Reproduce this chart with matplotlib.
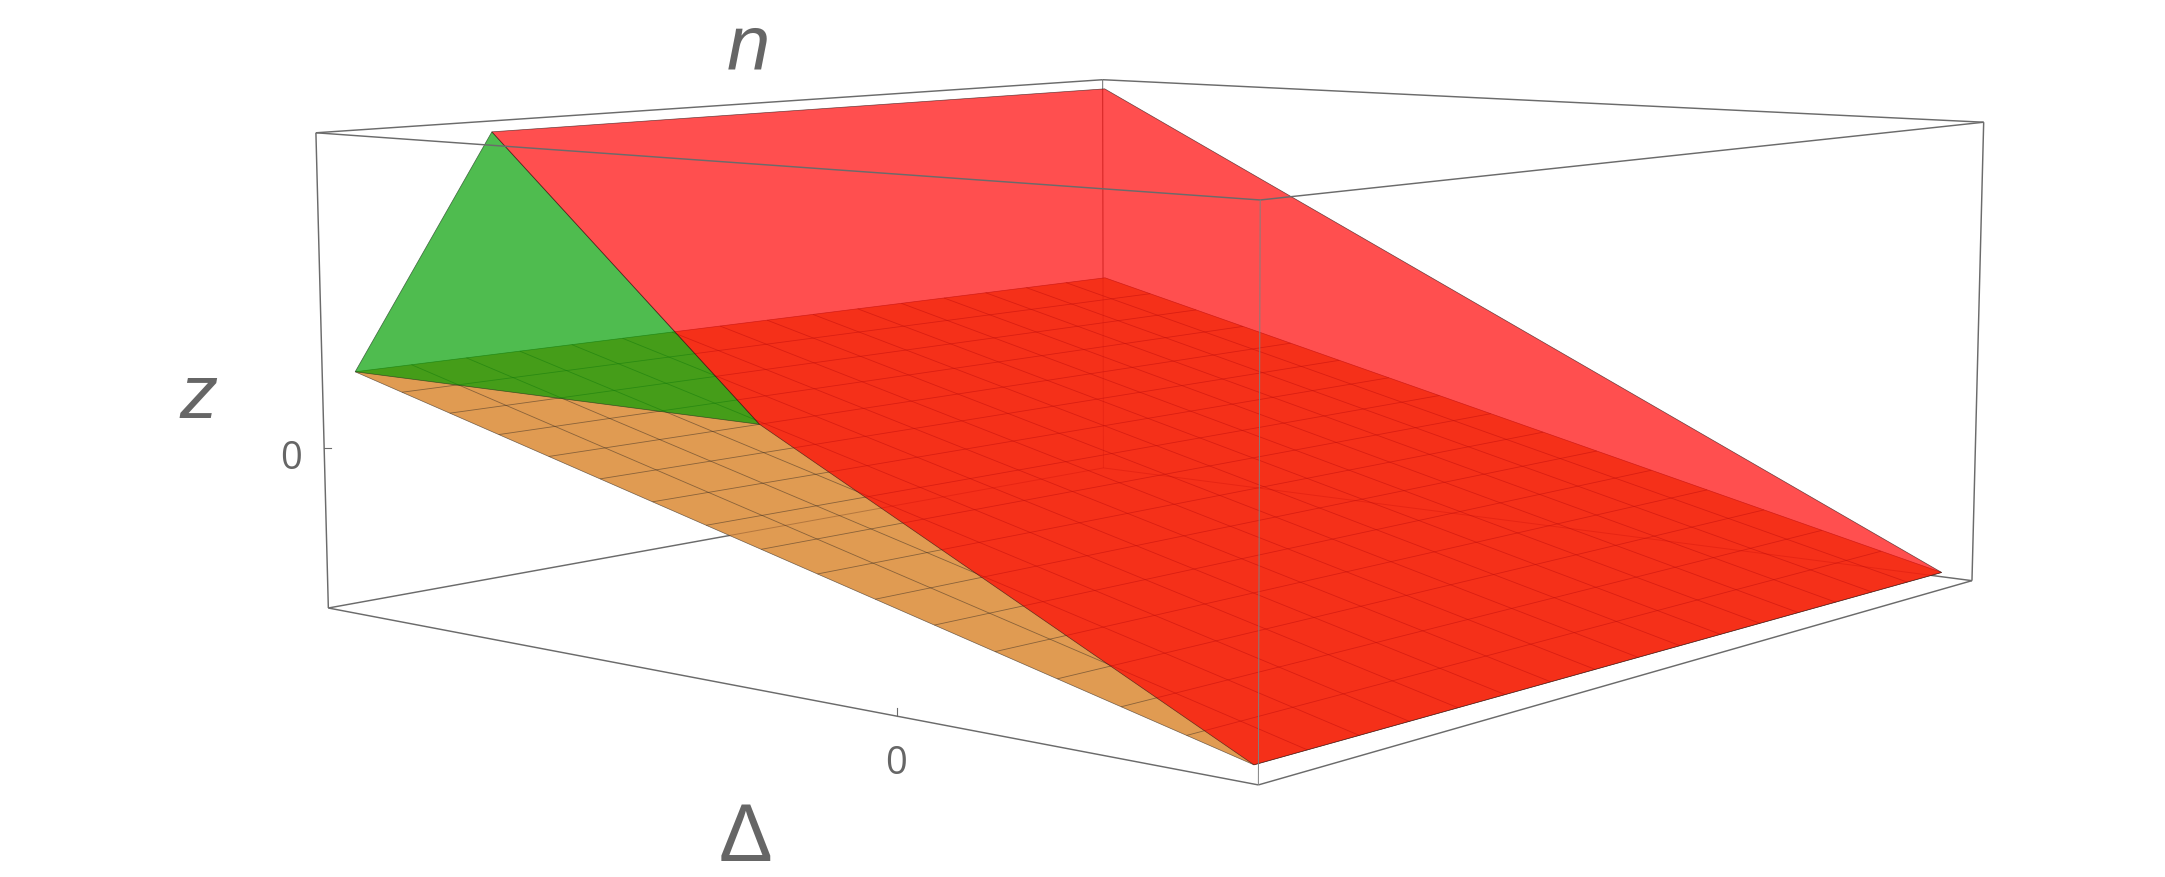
import numpy as np
import matplotlib
matplotlib.use("Agg")
import matplotlib.pyplot as plt
from matplotlib.patches import Polygon

# --- chart data (axis units) ---
delta_range = [-2.0, 1.0]
n_range = [0.0, 1.0]
z_range = [-1.0, 2.0]
mesh_divisions = 16

lower_delta = [-2.0, -2.0, 1.0, 1.0]
lower_n = [0.0, 1.0, 1.0, 0.0]

green_delta = [-2.0, -2.0, -0.5]
green_n = [0.0, 0.16, 0.0]
green_z = [0.5, 2.0, 0.5]

red_delta = [-2.0, -2.0, 1.0, 1.0, -0.5]
red_n = [0.16, 1.0, 1.0, 0.0, 0.0]
red_z = [2.0, 2.0, -1.0, -1.0, 0.5]

tick_label = "0"

# --- view: camera calibrated from the box corners as seen in the picture ---
pad = 0.02
Dl = (delta_range[0] - pad * 3, delta_range[1] + pad * 3)
Nl = (n_range[0] - pad, n_range[1] + pad)
Zl = (z_range[0] - pad * 3, z_range[1] + pad * 3)
view_corners = {
    (0, 0, 1): (315.7, 133.7), (0, 1, 1): (1103.0, 80.7),
    (1, 1, 1): (1983.5, 123.3), (1, 0, 1): (1260.2, 201.0),
    (0, 0, 0): (328.6, 609.0), (1, 0, 0): (1258.3, 786.0),
    (1, 1, 0): (1972.2, 581.5), (0, 1, 0): (1103.0, 469.0),
}
rows = []
for (i, j, k), (u, v) in view_corners.items():
    X = [Dl[i], Nl[j], Zl[k], 1.0]
    rows.append([*X, 0, 0, 0, 0, *[-u * c for c in X]])
    rows.append([0, 0, 0, 0, *X, *[-v * c for c in X]])
P = np.linalg.svd(np.array(rows))[2][-1].reshape(3, 4)


def project(d, n, z):
    d, n, z = np.broadcast_arrays(np.asarray(d, float), np.asarray(n, float), np.asarray(z, float))
    p = P @ np.vstack([d.ravel(), n.ravel(), z.ravel(), np.ones(d.size)])
    return np.column_stack([p[0] / p[2], p[1] / p[2]])


def lower_sheet(d):
    return -(1.0 + np.asarray(d, float)) / 2.0


BOX = "#6b6b6b"
ORANGE = "#e09b52"
fig = plt.figure(figsize=(21.65, 8.78), dpi=100, facecolor="white")
ax = fig.add_axes([0, 0, 1, 1])
ax.set_xlim(0, 2165)
ax.set_ylim(878, 0)
ax.axis("off")


def corner(a):
    return Dl[a[0]], Nl[a[1]], Zl[a[2]]


def edge(a, b, z, lw=1.05, color=BOX, clip=None):
    pts = project(*np.array([corner(a), corner(b)]).T)
    ln, = ax.plot(pts[:, 0], pts[:, 1], color=color, lw=lw, zorder=z, solid_capstyle="butt")
    if clip is not None:
        ln.set_clip_path(clip)


# back edges of the box
edge((0, 0, 1), (0, 1, 1), 1)
edge((0, 1, 1), (1, 1, 1), 1)
edge((0, 0, 0), (0, 1, 0), 1)
edge((0, 1, 0), (1, 1, 0), 1)
edge((0, 1, 0), (0, 1, 1), 1, lw=0.7)
edge((0, 0, 0), (0, 0, 1), 1)
edge((1, 1, 0), (1, 1, 1), 1)

# lower sheet with its mesh
sheet = Polygon(project(lower_delta, lower_n, lower_sheet(lower_delta)), closed=True,
                facecolor=ORANGE, edgecolor=(0.25, 0.2, 0.15, 0.7), lw=0.5, zorder=2)
ax.add_patch(sheet)
levels = np.arange(1, mesh_divisions) / mesh_divisions
for t in levels:
    d = delta_range[0] + t * (delta_range[1] - delta_range[0])
    n = n_range[0] + t * (n_range[1] - n_range[0])
    a = project([d, d], n_range, lower_sheet([d, d]))
    b = project(delta_range, [n, n], lower_sheet(delta_range))
    for seg in (a, b):
        ax.plot(seg[:, 0], seg[:, 1], color=(0.2, 0.16, 0.13, 0.5), lw=0.6, zorder=3,
                solid_capstyle="butt")

# back edges faintly seen through the lower sheet
faint = (0.25, 0.1, 0.05, 0.28)
edge((0, 0, 0), (0, 1, 0), 3, lw=0.7, color=faint, clip=sheet)
edge((0, 1, 0), (1, 1, 0), 3, lw=0.7, color=faint, clip=sheet)
edge((0, 1, 0), (0, 1, 1), 3, lw=0.6, color=faint, clip=sheet)

# translucent sheets
ax.add_patch(Polygon(project(green_delta, green_n, green_z), closed=True,
                     facecolor=(0.0, 0.62, 0.0, 0.69), edgecolor=(0.1, 0.2, 0.1, 0.7), lw=0.5, zorder=4))
ax.add_patch(Polygon(project(red_delta, red_n, red_z), closed=True,
                     facecolor=(1.0, 0.0, 0.0, 0.69), edgecolor=(0.2, 0.08, 0.08, 0.7), lw=0.5, zorder=5))

# front edges of the box
edge((0, 0, 1), (1, 0, 1), 6)
edge((1, 0, 1), (1, 1, 1), 6)
edge((0, 0, 0), (1, 0, 0), 6)
edge((1, 0, 0), (1, 1, 0), 6)
edge((1, 0, 0), (1, 0, 1), 6, lw=0.7, color="#808080")

# ticks and labels
t_d = project(0.0, Nl[0], Zl[0])[0]
t_z = project(Dl[0], Nl[0], 0.0)[0]
ax.plot([t_d[0], t_d[0]], [t_d[1], t_d[1] - 8], color=BOX, lw=0.8, zorder=6)
ax.plot([t_z[0], t_z[0] + 7], [t_z[1], t_z[1]], color=BOX, lw=0.8, zorder=6)

TXT = "#666666"
ax.text(896, 764, tick_label, family="Open Sans", fontsize=27.5, color=TXT, ha="center", va="center")
ax.text(291, 459, tick_label, family="Open Sans", fontsize=27.5, color=TXT, ha="center", va="center")
ax.text(748, 49, "n", family="Liberation Sans", style="italic", fontsize=56, color=TXT, ha="center", va="center")
ax.text(199, 399, "z", family="Liberation Sans", style="italic", fontsize=55, color=TXT, ha="center", va="center")
ax.text(745.5, 840, "Δ", family="Liberation Sans", fontsize=58, color=TXT, ha="center", va="center")

fig.savefig("out.png", dpi=100, facecolor="white")
